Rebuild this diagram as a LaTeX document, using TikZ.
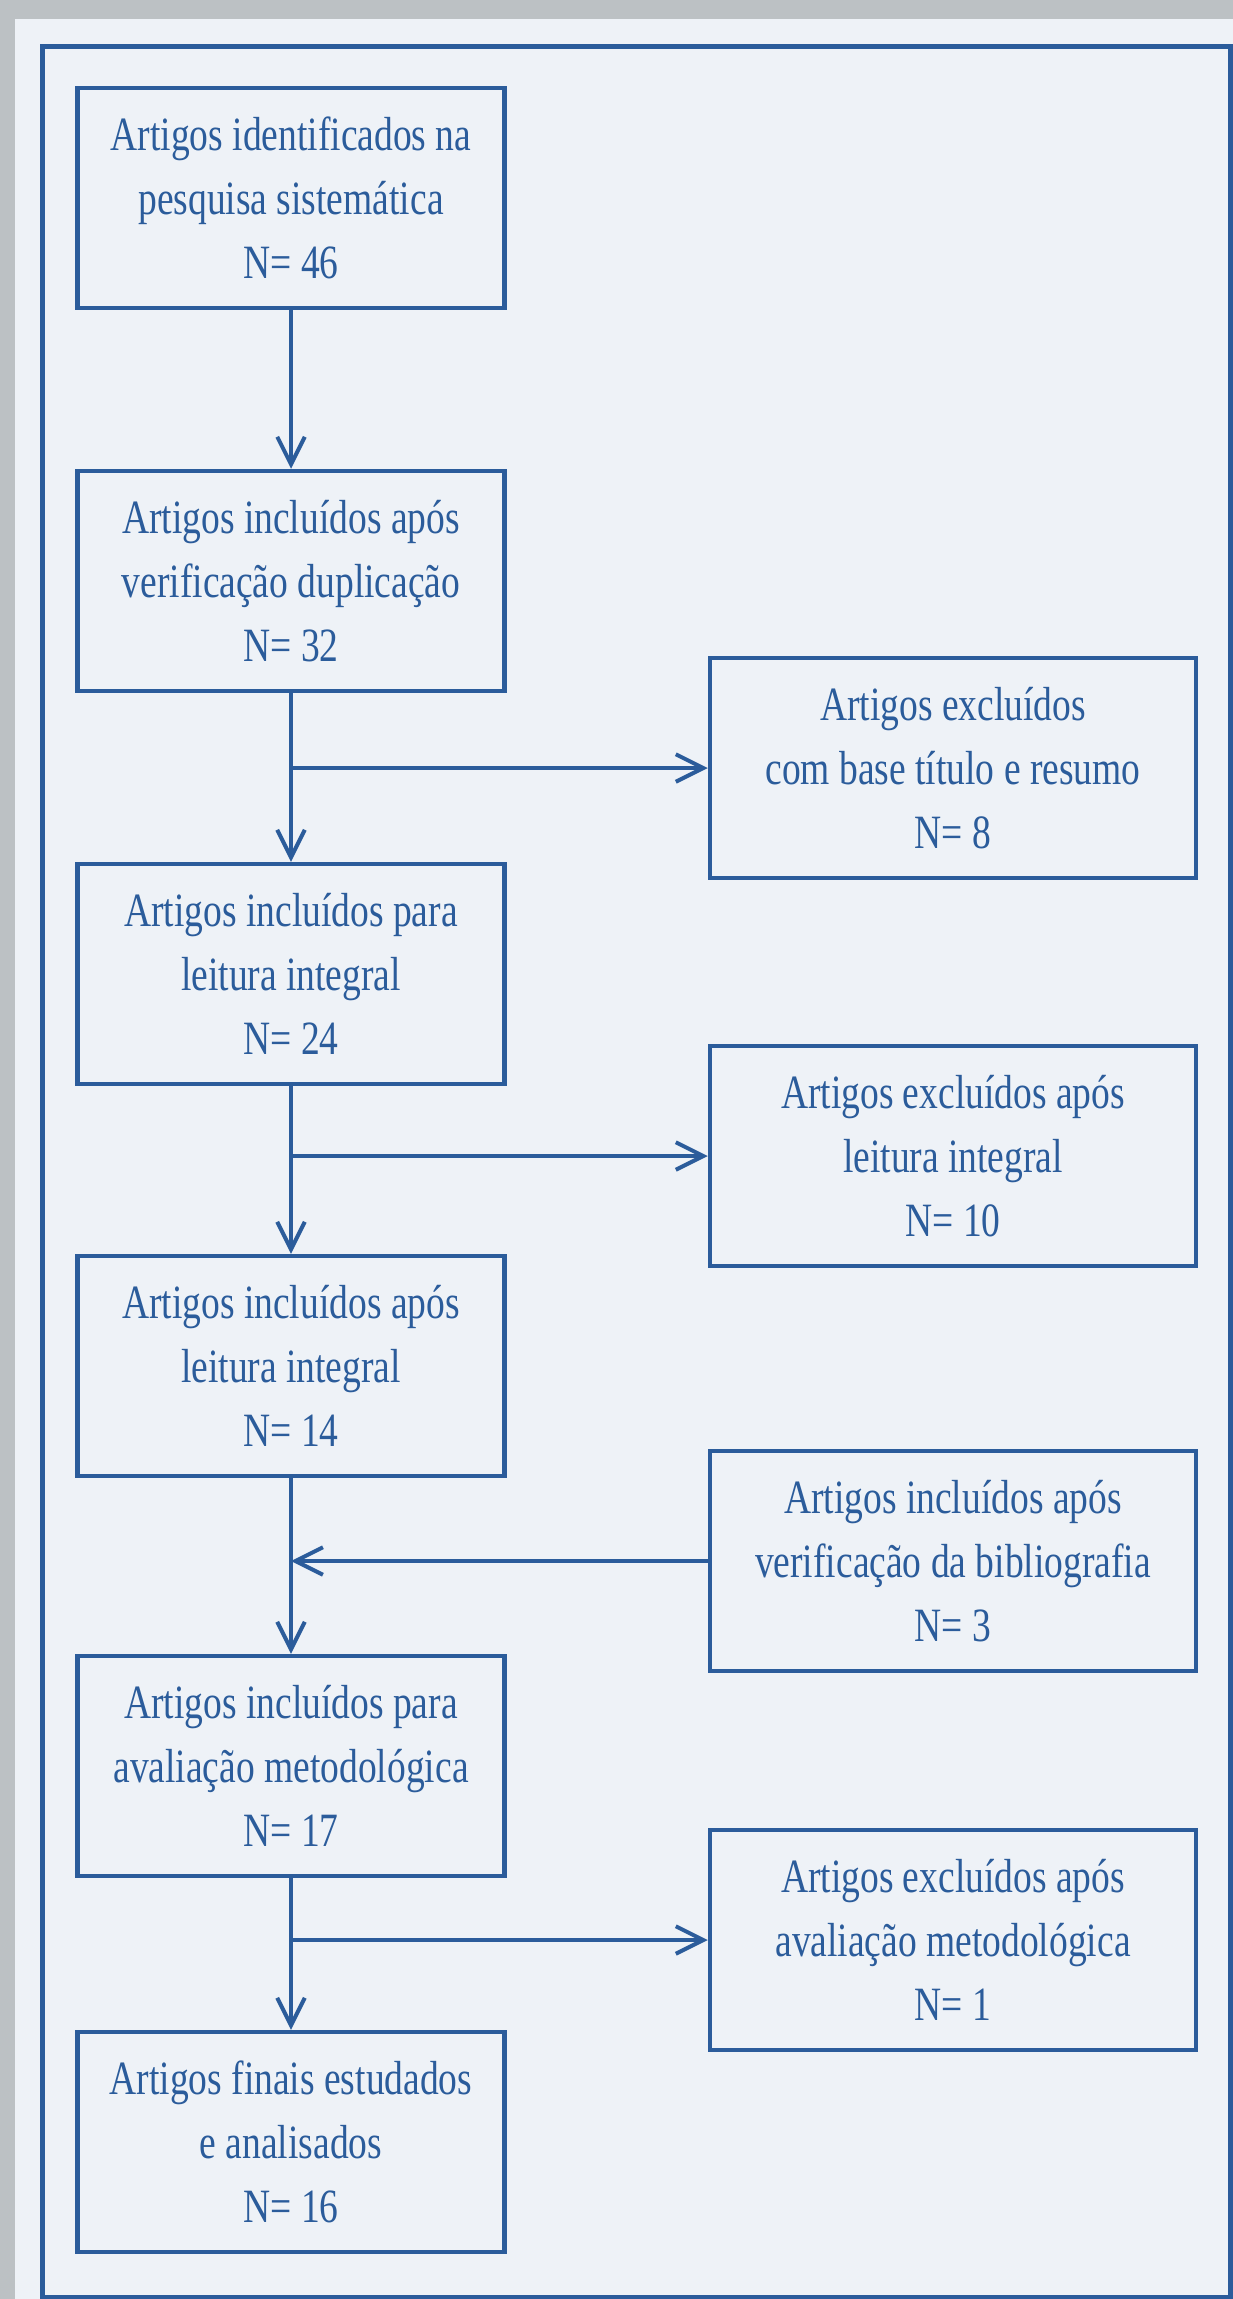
\documentclass[tikz,border=0pt]{standalone}
\usepackage{fontspec}
\newfontfamily\flowfont[FakeStretch=0.785]{Liberation Serif}
\usetikzlibrary{arrows.meta}
\definecolor{inkblue}{RGB}{43,92,155}
\definecolor{paper}{RGB}{238,242,247}
\definecolor{scangray}{RGB}{188,193,196}

\begin{document}
\begin{tikzpicture}[x=0.2mm, y=-0.2mm]
\tikzset{ >={Straight Barb[length=5.5mm, width=5.5mm]},
  mainbox/.style={draw=inkblue, line width=0.9mm, text=inkblue, align=center, inner sep=0pt,
    minimum width=85.4mm, minimum height=44mm,
    font=\flowfont\fontsize{27.2pt}{36.4pt}\selectfont},
  sidebox/.style={mainbox, minimum width=97.2mm},
  flow/.style={draw=inkblue, line width=0.8mm},
}

%\draw [lightgray, dashed, step=100] (0,0) grid (1233,2299);

\useasboundingbox (0,0) rectangle (1233,2299);
\fill [scangray] (0,0) rectangle (1233,2299);
\fill [paper] (15,19) rectangle (1233,2299);
\draw [inkblue, line width=1mm] (42,46) rectangle (1230,2297);

\node [mainbox] (ID)  at (291,198)  {Artigos identificados na\\pesquisa sistemática\\N= 46};
\node [mainbox] (DUP) at (291,581)  {Artigos incluídos após\\verificação duplicação\\N= 32};
\node [mainbox] (LEI) at (291,974)  {Artigos incluídos para\\leitura integral\\N= 24};
\node [mainbox] (INT) at (291,1366) {Artigos incluídos após\\leitura integral\\N= 14};
\node [mainbox] (MET) at (291,1766) {Artigos incluídos para\\avaliação metodológica\\N= 17};
\node [mainbox] (FIN) at (291,2142) {Artigos finais estudados\\e analisados\\N= 16};

\node [sidebox] (EXA) at (953,768)  {Artigos excluídos\\com base título e resumo\\N= 8};
\node [sidebox] (EXB) at (953,1156) {Artigos excluídos após\\leitura integral\\N= 10};
\node [sidebox] (INC) at (953,1561) {Artigos incluídos após\\verificação da bibliografia\\N= 3};
\node [sidebox] (EXC) at (953,1940) {Artigos excluídos após\\avaliação metodológica\\N= 1};

\coordinate (J1) at (DUP.south |- EXA.west);
\coordinate (J2) at (LEI.south |- EXB.west);
\coordinate (J3) at (INT.south |- INC.west);
\coordinate (J4) at (MET.south |- EXC.west);

\draw [flow, ->] (ID)  -- (DUP);
\draw [flow, ->] (DUP) -- (LEI);
\draw [flow, ->] (LEI) -- (INT);
\draw [flow, ->] (INT) -- (MET);
\draw [flow, ->] (MET) -- (FIN);

\draw [flow, ->] (J1)  -- (EXA);
\draw [flow, ->] (J2)  -- (EXB);
\draw [flow, ->] (INC) -- (J3);
\draw [flow, ->] (J4)  -- (EXC);

\end{tikzpicture}
\end{document}
